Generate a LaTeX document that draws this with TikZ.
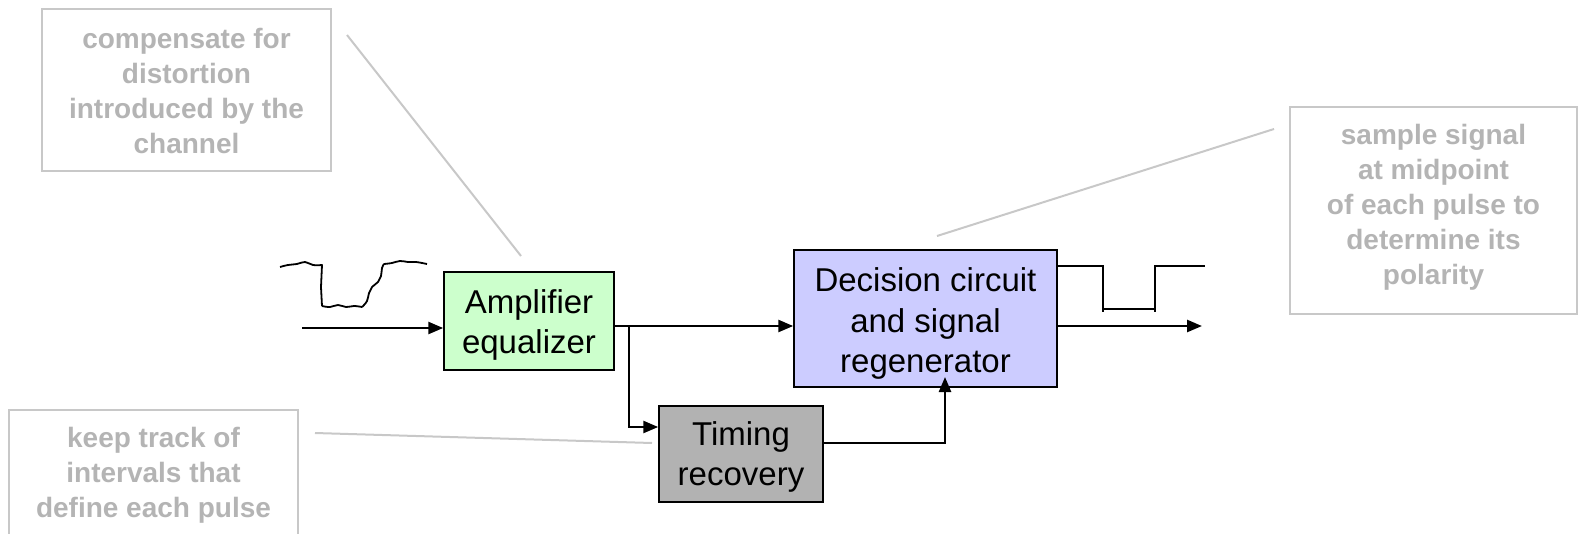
\documentclass[tikz,border=0pt]{standalone}
\usepackage{fontspec}
\setmainfont{Liberation Sans}
\usetikzlibrary{arrows.meta}
\definecolor{notegray}{HTML}{B4B4B4}
\definecolor{noteline}{HTML}{C8C8C8}
\definecolor{ampfill}{HTML}{CCFFCC}
\definecolor{decfill}{HTML}{CCCCFF}
\definecolor{timfill}{HTML}{B2B2B2}
\tikzset{
  blockbox/.style={draw=black, line width=1.5pt, inner sep=0pt},
  blocktext/.style={inner sep=0pt, align=center, font=\fontsize{33}{40.5}\selectfont},
  notebox/.style={draw=noteline, line width=2pt, inner sep=0pt},
  notetext/.style={inner sep=0pt, align=center, text=notegray,
    font=\fontsize{28}{35}\selectfont\bfseries},
  noteconn/.style={draw=noteline, line width=2pt},
  arr/.style={line width=2.5pt, -{Triangle[length=15pt,width=12pt]}},
  sig/.style={line width=2.5pt, line join=miter},
}
\begin{document}
\begin{tikzpicture}[x=1pt,y=-1pt]
\useasboundingbox (0,0) rectangle (1579,533);
% annotation boxes
\node[notebox, minimum width=289pt, minimum height=162pt] (n1) at (186.5,90) {};
\node[notetext] (n1t) at ([yshift=-1pt]n1.center) {compensate for\\distortion\\introduced by the\\channel};
\node[notebox, minimum width=287pt, minimum height=207pt] (n2) at (1433.5,210.5) {};
\node[notetext] (n2t) at ([yshift=3pt]n2.center) {sample signal\\at midpoint\\of each pulse to\\determine its\\polarity};
\node[notebox, minimum width=289pt, minimum height=130pt, anchor=north] (n3) at (153.5,409) {};
\node[notetext] (n3t) at (153.5,475) {keep track of\\intervals that\\define each pulse};
% blocks
\node[blockbox, fill=ampfill, minimum width=170pt, minimum height=98pt] (amp) at (529,321) {};
\node[blocktext] (ampt) at ([yshift=-4pt]amp.center) {Amplifier\\equalizer};
\node[blockbox, fill=decfill, minimum width=263pt, minimum height=137pt] (dec) at (925.5,318.5) {};
\node[blocktext] (dect) at ([yshift=-5pt]dec.center) {Decision circuit\\and signal\\regenerator};
\node[blockbox, fill=timfill, minimum width=164pt, minimum height=96pt] (tim) at (741,454) {};
\node[blocktext] (timt) at ([yshift=-3pt]tim.center) {Timing\\recovery};
% coordinates
\coordinate (in) at (302,328);
\coordinate (split) at (629,326);
\coordinate (tapin) at (945,377);
\coordinate (out) at (1202,326);
\coordinate (c1) at (347,35);
\coordinate (c1e) at (521,256);
\coordinate (c2) at (1274,129);
\coordinate (c2e) at (937,236);
\coordinate (c3) at (315,433);
\coordinate (c3e) at (652,443);
% annotation connectors
\draw[noteconn] (c1) -- (c1e);
\draw[noteconn] (c2) -- (c2e);
\draw[noteconn] (c3) -- (c3e);
% signal connectors
\draw[arr] (in) -- (amp.west |- in);
\draw[line width=2.5pt] (amp.east |- split) -- (split);
\draw[arr] (split) -- (dec.west |- split);
\draw[arr] (split) |- (tim.west |- 0,427);
\draw[arr] (tim.east |- 0,443) -| (tapin);
\draw[arr] (dec.east |- out) -- (out);
% distorted input waveform
\draw[line width=1.8pt, line join=round]
  plot[smooth, tension=0.7] coordinates {(280,267) (288,265) (297,264) (305,262) (313,265) (322,265)}
  -- (321,287) -- (322,306)
  plot[smooth, tension=0.7] coordinates {(322,306) (330,307) (338,305) (346,307) (354,306) (362,307)}
  plot[smooth, tension=0.7] coordinates {(362,307) (367,301) (369,293) (372,287) (378,282) (381,276) (382,268) (384,264)}
  plot[smooth, tension=0.7] coordinates {(384,264) (392,263) (400,261) (408,262) (416,262) (427,264)};
% regenerated output waveform
\draw[sig] (dec.east |- 0,266) -- (1103,266) -- (1103,309) -- (1155,309) -- (1155,266) -- (1205,266);
\draw[line width=1.5pt] (1103,309) -- (1103,312);
\draw[line width=1.5pt] (1155,309) -- (1155,312);
\end{tikzpicture}
\end{document}
